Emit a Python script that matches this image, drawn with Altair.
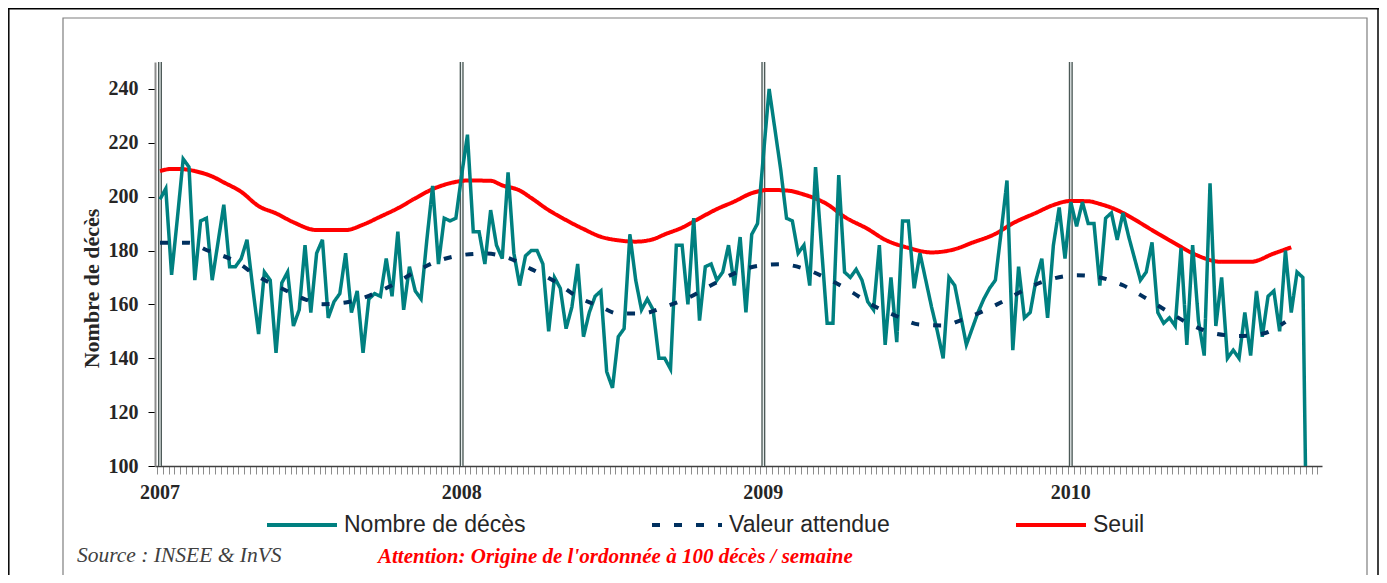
import altair as alt
import pandas as pd

# ---------------- data ----------------
series_names = ["Nombre de décès", "Valeur attendue", "Seuil"]
series_colors = ["#008080", "#00305f", "#ff0000"]

# weekly number of deaths, week index 0 = 2007 week 1
deaths = [
    199, 203, 171, 192, 214, 211, 169, 191, 192, 169,
    183, 197, 174, 174, 177, 184, 166, 149, 172, 169,
    142, 168, 172, 152, 158, 182, 157, 179, 184, 155,
    161, 164, 179, 157, 165, 142, 162, 164, 163, 177,
    163, 187, 158, 174, 165, 162, 184, 204, 175, 192,
    191, 192, 208, 223, 187, 187, 175, 195, 182, 177,
    209, 179, 167, 178, 180, 180, 175, 150, 170, 166,
    151, 159, 175, 148, 157, 163, 165, 135, 129, 148,
    151, 186, 169, 158, 162, 158, 140, 140, 136, 182,
    182, 160, 192, 154, 174, 175, 169, 172, 182, 167,
    185, 157, 186, 190, 215, 240, 225, 210, 192, 191,
    179, 182, 167, 211, 182, 153, 153, 208, 172, 170,
    173, 169, 161, 158, 182, 145, 170, 146, 191, 191,
    166, 179, 169, 159, 150, 140, 170, 167, 156, 145,
    151, 157, 162, 166, 169, 187, 206, 143, 174, 155,
    157, 169, 177, 155, 182, 196, 177, 198, 189, 198,
    190, 190, 167, 192, 194, 184, 194, 185, 177, 169,
    172, 183, 157, 153, 155, 152, 181, 145, 182, 154,
    141, 205, 152, 170, 140, 143, 140, 157, 141, 165,
    148, 163, 165, 150, 180, 157, 172, 170, 14,
]

expected_weeks = [0, 5, 8, 13, 17, 21, 25, 28, 32, 36, 40, 44, 48, 52, 56,
                  60, 64, 68, 72, 76, 79, 83, 87, 91, 95, 99, 103, 107, 111,
                  115, 119, 123, 127, 131, 135, 138, 142, 146, 150, 154, 158,
                  162, 166, 170, 174, 178, 182, 186, 190, 194]
expected_vals = [182.9, 182.9, 180.2, 176, 170.2, 165.9, 161.9, 160.1, 160.7,
                 163.2, 167.1, 172.1, 176.2, 178.3, 178.9, 177.3, 173.1, 168.6,
                 162.8, 159.1, 156.6, 156.6, 159.1, 162.4, 167.1, 171.5, 174.3,
                 174.9, 173.3, 169.6, 164.9, 159.5, 155.6, 152.5, 152.2, 154.1,
                 157.6, 161.9, 166.5, 169.6, 170.8, 170, 167.1, 162.2, 157,
                 152.2, 149.1, 148.3, 149.1, 153.5]

threshold_weeks = [0, 2, 4, 6, 9, 11, 14, 17, 20, 23, 27, 32, 35, 38, 41, 44,
                   47, 50, 53, 57, 59, 62, 64, 67, 70, 73, 76, 79, 82, 85, 87,
                   90, 93, 96, 99, 102, 105, 108, 111, 115, 118, 122, 125, 129,
                   133, 137, 140, 144, 147, 151, 154, 157, 160, 162, 165, 168,
                   171, 175, 178, 183, 188, 192, 195]
threshold_vals = [209.5, 210.3, 210.2, 209.5, 207.5, 205.3, 201.8, 196.5, 193.8,
                  190.5, 187.6, 187.6, 189.6, 192.6, 195.7, 199.4, 202.8, 205,
                  206, 205.9, 204.2, 202.3, 199.5, 195, 191.3, 188, 185.1, 183.8,
                  183.3, 184.2, 186, 188.5, 192, 195.4, 198.2, 201.3, 202.5,
                  202.3, 200.8, 197.2, 192.5, 188, 184, 181, 179.3, 180.5, 182.9,
                  186.2, 190.1, 194, 196.9, 198.4, 198.3, 197.3, 195, 191.5,
                  187.6, 182.6, 179, 175.8, 175.8, 178.9, 181.2]

year_labels = ["2007", "2008", "2009", "2010"]
year_start_weeks = [0, 52, 104, 157]
week_ticks = list(range(0, 201))
y_ticks = [100, 120, 140, 160, 180, 200, 220, 240]

source_text = "Source : INSEE & InVS"
warning_text = "Attention: Origine de l'ordonnée à 100 décès / semaine"

# ---------------- tables ----------------
df_deaths = pd.DataFrame({"week": list(range(len(deaths))), "value": deaths,
                          "serie": series_names[0]})
df_expected = pd.DataFrame({"week": expected_weeks, "value": expected_vals,
                            "serie": series_names[1]})
df_threshold = pd.DataFrame({"week": threshold_weeks, "value": threshold_vals,
                             "serie": series_names[2]})
df_years = pd.DataFrame({"week": year_start_weeks, "label": year_labels})
one = pd.DataFrame({"a": [0]})

# ---------------- scales / axes ----------------
W, H = 1167, 404
x_scale = alt.Scale(domain=[-0.86, 200.3], nice=False, zero=False)
y_scale = alt.Scale(domain=[100, 250], nice=False, zero=False)
color_scale = alt.Scale(domain=series_names, range=series_colors)
dash_scale = alt.Scale(domain=series_names, range=[[1, 0], [8, 14], [1, 0]])

x_axis = alt.Axis(
    values=week_ticks, labels=False, title=None, grid=False,
    tickSize=8, tickColor="#8c8c8c", tickWidth=1, tickOffset=-2.9,
    domainColor="#404040", domainWidth=1.5,
)
y_axis = alt.Axis(
    values=y_ticks, title="Nombre de décès", grid=False,
    titleFont="Liberation Serif", titleFontSize=22, titleFontWeight="bold",
    titleColor="#262626", titleX=-64, titleY=226, titleAngle=270,
    titleAlign="center", titleBaseline="middle",
    labelFont="Liberation Serif", labelFontSize=20, labelFontWeight="bold",
    labelColor="#262626", labelPadding=10, tickSize=7, tickColor="#000000",
    domainColor="#8c8c8c", domainWidth=2,
)

legend = alt.Legend(
    title=None, orient="none", legendX=110, legendY=426, direction="horizontal",
    symbolType="stroke", symbolSize=4900, symbolStrokeWidth=4,
    labelFont="Liberation Sans", labelFontSize=23, labelColor="#262626",
    labelOffset=5, columnPadding=118, padding=0, labelLimit=500,
)

X = alt.X("week:Q", scale=x_scale, axis=x_axis)


def line_layer(df, width, interp):
    return alt.Chart(df).mark_line(strokeWidth=width, interpolate=interp,
                                   strokeCap="butt", clip=True).encode(
        x=X,
        y=alt.Y("value:Q", scale=y_scale, axis=y_axis),
        color=alt.Color("serie:N", scale=color_scale, legend=legend),
        strokeDash=alt.StrokeDash("serie:N", scale=dash_scale, legend=legend),
    )


# ---------------- decorations ----------------
box = alt.Chart(one).mark_rect(fillOpacity=0, stroke="#7f7f7f", strokeWidth=1.2).encode(
    x=alt.value(-92), x2=alt.value(1212), y=alt.value(-44), y2=alt.value(560)
)
frame_top = alt.Chart(one).mark_rule(color="#000000", strokeWidth=1.5).encode(
    x=alt.value(-147), x2=alt.value(1224), y=alt.value(-53.2)
)
frame_left = alt.Chart(one).mark_rule(color="#000000", strokeWidth=1.5).encode(
    x=alt.value(-146.2), y=alt.value(-54), y2=alt.value(520)
)
frame_right = alt.Chart(one).mark_rule(color="#000000", strokeWidth=1.5).encode(
    x=alt.value(1223), y=alt.value(-54), y2=alt.value(520)
)

year_dark = alt.Chart(df_years).mark_rule(color="#4d5a58", strokeWidth=4).encode(x=X)
year_light = alt.Chart(df_years).mark_rule(color="#e8eeee", strokeWidth=1.3).encode(x=X)
year_text = alt.Chart(df_years).mark_text(
    baseline="middle", align="center", font="Liberation Serif", fontSize=20,
    fontWeight="bold", color="#262626",
).encode(x=X, y=alt.value(H + 27), text="label:N")

source = alt.Chart(one).mark_text(
    text=source_text, align="left", baseline="alphabetic", font="Liberation Serif",
    fontStyle="italic", fontSize=21.5, color="#404040",
).encode(x=alt.value(-78), y=alt.value(500))
warning = alt.Chart(one).mark_text(
    text=warning_text, align="left", baseline="alphabetic", font="Liberation Serif",
    fontStyle="italic", fontWeight="bold", fontSize=21, color="#ff0000",
).encode(x=alt.value(223), y=alt.value(501))

chart = alt.layer(
    box, frame_top, frame_left, frame_right,
    year_dark, year_light, year_text,
    line_layer(df_threshold, 4, "monotone"),
    line_layer(df_deaths, 3.5, "linear"),
    line_layer(df_expected, 4, "monotone"),
    source, warning,
).properties(
    width=W, height=H,
    autosize=alt.AutoSizeParams(type="none"),
    padding={"left": 147, "top": 54, "right": 57, "bottom": 109},
    background="#ffffff",
).configure_view(stroke=None)

chart.save("out.html", embed_options={"renderer": "svg", "actions": False})
